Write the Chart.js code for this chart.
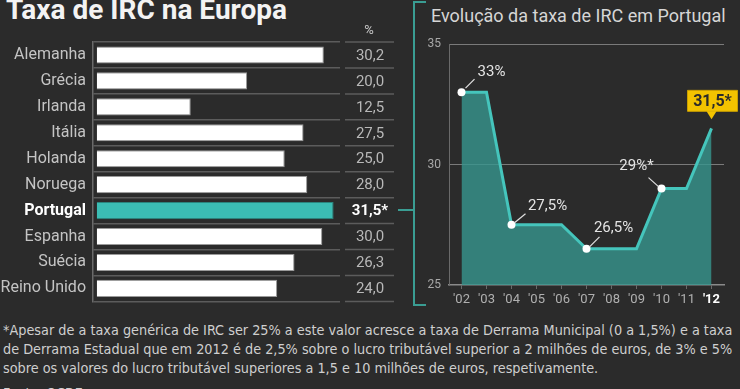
<!DOCTYPE html>
<html>
<head>
<meta charset="utf-8">
<script src="https://cdn.jsdelivr.net/npm/chart.js@4.4.1/dist/chart.umd.min.js"></script>
<style>
  html, body { margin:0; padding:0; background:#2b2b2b; width:740px; height:389px; overflow:hidden; }
  body { position:relative; font-family: Roboto, "Noto Sans", sans-serif; }
  #title { position:absolute; left:6px; top:-7px; font-size:28px; font-weight:bold; color:#f3f3f3; white-space:nowrap; }
  #title2 { position:absolute; left:431px; top:5px; font-size:18px; color:#d6d6d6; white-space:nowrap; }
  #left { position:absolute; left:0; top:0; }
  #right { position:absolute; left:400px; top:0; }
  .br { position:absolute; background:#3a9d93; }
  #note { position:absolute; left:3px; top:321px; font-family:"Liberation Sans Narrow","DejaVu Sans Condensed",sans-serif; font-size:14.3px; line-height:19px; color:#cfcfcf; white-space:nowrap; }
  #src { position:absolute; left:3px; top:385px; font-family:"Liberation Sans Narrow","DejaVu Sans Condensed",sans-serif; font-size:14px; color:#cfcfcf; white-space:nowrap; }
</style>
</head>
<body>
<div id="title">Taxa de IRC na Europa</div>
<div id="title2">Evolução da taxa de IRC em Portugal</div>
<canvas id="left" width="400" height="318"></canvas>
<canvas id="right" width="340" height="310"></canvas>
<div class="br" style="left:413px;top:1px;width:2px;height:305px;"></div>
<div class="br" style="left:413px;top:1px;width:13px;height:2px;"></div>
<div class="br" style="left:413px;top:304px;width:13px;height:2px;"></div>
<div class="br" style="left:398px;top:209px;width:16px;height:2px;"></div>
<div id="note">*Apesar de a taxa genérica de IRC ser 25% a este valor acresce a taxa de Derrama Municipal (0 a 1,5%) e a taxa<br>de Derrama Estadual que em 2012 é de 2,5% sobre o lucro tributável superior a 2 milhões de euros, de 3% e 5%<br>sobre os valores do lucro tributável superiores a 1,5 e 10 milhões de euros, respetivamente.</div>
<div id="src">Fonte: OCDE</div>
<script>
// ---- data ----
const countries = ['Alemanha','Grécia','Irlanda','Itália','Holanda','Noruega','Portugal','Espanha','Suécia','Reino Unido'];
const rates = [30.2, 20.0, 12.5, 27.5, 25.0, 28.0, 31.5, 30.0, 26.3, 24.0];
const rateLabels = ['30,2','20,0','12,5','27,5','25,0','28,0','31,5*','30,0','26,3','24,0'];
const highlightIndex = 6;

const years = ["'02","'03","'04","'05","'06","'07","'08","'09","'10","'11","'12"];
const ptRates = [33, 33, 27.5, 27.5, 27.5, 26.5, 26.5, 26.5, 29, 29, 31.5];
const ptLabels = {0:'33%', 2:'27,5%', 5:'26,5%', 8:'29%*', 10:'31,5*'};
const yTicks = [25, 30, 35];

const FONT = 'Roboto, "Noto Sans", sans-serif';

// ---- left chart ----
const valueColumn = {
  id:'valueColumn',
  afterDraw(chart){
    const ctx = chart.ctx, ys = chart.scales.y, area = chart.chartArea;
    ctx.save();
    ctx.strokeStyle = '#5c5c5c'; ctx.lineWidth = 1.5;
    const bounds = [area.top];
    for (let i=0;i<countries.length-1;i++) bounds.push((ys.getPixelForValue(i)+ys.getPixelForValue(i+1))/2);
    bounds.push(area.bottom);
    bounds.forEach(b=>{ ctx.beginPath(); ctx.moveTo(345,b); ctx.lineTo(394,b); ctx.stroke(); });
    ctx.textAlign='center'; ctx.textBaseline='middle';
    ctx.fillStyle='#c9c9c9'; ctx.font = '13px '+FONT;
    ctx.fillText('%', 369, 31);
    rateLabels.forEach((t,i)=>{
      const y = ys.getPixelForValue(i);
      if (i===highlightIndex){ ctx.fillStyle='#ffffff'; ctx.font='bold 15px '+FONT; }
      else { ctx.fillStyle='#b8b8b8'; ctx.font='15px '+FONT; }
      ctx.fillText(t, 370, y+1);
    });
    ctx.restore();
  }
};

new Chart(document.getElementById('left'), {
  type:'bar',
  data:{ labels:countries, datasets:[{
    data:rates,
    backgroundColor: rates.map((v,i)=> i===highlightIndex ? '#3bbdb4' : '#ffffff'),
    borderColor: rates.map((v,i)=> i===highlightIndex ? '#2a857e' : '#9a9a9a'),
    borderWidth:1,
    barPercentage:0.66, categoryPercentage:1
  }]},
  options:{
    responsive:false, animation:false, indexAxis:'y',
    layout:{ padding:{ top:42, bottom:0, right:60, left:0 } },
    plugins:{ legend:{display:false}, tooltip:{enabled:false} },
    scales:{
      x:{ display:false, min:-0.5, max:32.35 },
      y:{
        afterFit(s){ s.width = 93; },
        border:{ display:true, color:'#6a6a6a', width:1.5 },
        grid:{ offset:true, drawTicks:false, color:'#5c5c5c', lineWidth:1.5 },
        ticks:{
          padding:7,
          color:(c)=> c.index===highlightIndex ? '#ffffff' : '#c4c4c4',
          font:(c)=> c.index===highlightIndex ? {family:FONT, size:16, weight:'bold'} : {family:FONT, size:16}
        }
      }
    }
  },
  plugins:[valueColumn]
});

// ---- right chart ----
const pointNotes = {
  id:'pointNotes',
  afterDatasetsDraw(chart){
    const ctx = chart.ctx, meta = chart.getDatasetMeta(0);
    const off = { 0:{l:[4,-4,13,-13], t:[30,-20]},
                  2:{l:[3,-2,14,-11], t:[36,-19]},
                  5:{l:[3,-2,13,-12], t:[27,-21]},
                  8:{l:[-3,-2,-13,-11], t:[-25,-22]} };
    ctx.save();
    Object.keys(ptLabels).forEach(k=>{
      const i = +k, p = meta.data[i];
      if (i===10){
        const cx = p.x, top = p.y-38, h = 21, w = 50;
        ctx.fillStyle = '#f3c300';
        ctx.strokeStyle = '#c99f00'; ctx.lineWidth=1;
        ctx.beginPath();
        ctx.rect(cx-w/2+1, top, w, h);
        ctx.fill(); ctx.stroke();
        ctx.beginPath();
        ctx.moveTo(cx-5, top+h); ctx.lineTo(cx+5, top+h); ctx.lineTo(cx, top+h+8); ctx.closePath();
        ctx.fill();
        ctx.fillStyle='#2a2a2a'; ctx.font='bold 16px '+FONT; ctx.textAlign='center'; ctx.textBaseline='middle';
        ctx.fillText(ptLabels[k], cx+1, top+h/2+1);
        return;
      }
      const o = off[i];
      ctx.strokeStyle = '#e0e0e0'; ctx.lineWidth = 1.2;
      ctx.beginPath(); ctx.moveTo(p.x+o.l[0], p.y+o.l[1]); ctx.lineTo(p.x+o.l[2], p.y+o.l[3]); ctx.stroke();
      ctx.fillStyle='#e4e4e4'; ctx.font='15px '+FONT; ctx.textAlign='center'; ctx.textBaseline='middle';
      ctx.fillText(ptLabels[k], p.x+o.t[0], p.y+o.t[1]);
    });
    ctx.restore();
  }
};

new Chart(document.getElementById('right'), {
  type:'line',
  data:{ labels:years, datasets:[{
    data:ptRates,
    borderColor:'#45c5bc', borderWidth:3,
    backgroundColor:'rgba(55,150,142,0.8)',
    fill:'start', tension:0,
    pointRadius: ptRates.map((v,i)=> (i in ptLabels && i!==10) ? 4 : 0),
    pointBackgroundColor:'#ffffff', pointBorderColor:'#ffffff', pointBorderWidth:0
  }]},
  options:{
    responsive:false, animation:false,
    layout:{ padding:{ top:44, right:16, left:0, bottom:0 } },
    plugins:{ legend:{display:false}, tooltip:{enabled:false} },
    scales:{
      x:{
        offset:true,
        afterFit(s){ s.height = 25; },
        border:{ display:true, color:'#8a8a8a', width:1.5 },
        grid:{ drawOnChartArea:false, drawTicks:true, tickLength:4, color:'#6a6a6a', offset:false },
        ticks:{ padding:3, color:(c)=> c.index===10 ? '#ffffff' : '#b0b0b0',
          font:(c)=> c.index===10 ? {family:FONT, size:13, weight:'bold'} : {family:FONT, size:13} }
      },
      y:{
        min:25, max:35,
        afterFit(s){ s.width = 49; },
        afterBuildTicks(s){ s.ticks = yTicks.map(v=>({value:v})); },
        border:{ display:true, color:'#6a6a6a', width:1 },
        grid:{ drawTicks:false, color:(c)=> c.tick && c.tick.value===25 ? 'rgba(0,0,0,0)' : '#7a7a7a', borderDash:[2,2], lineWidth:1 },
        ticks:{ padding:8, color:'#a8a8a8', font:{family:FONT, size:12} }
      }
    }
  },
  plugins:[pointNotes]
});
</script>
</body>
</html>
